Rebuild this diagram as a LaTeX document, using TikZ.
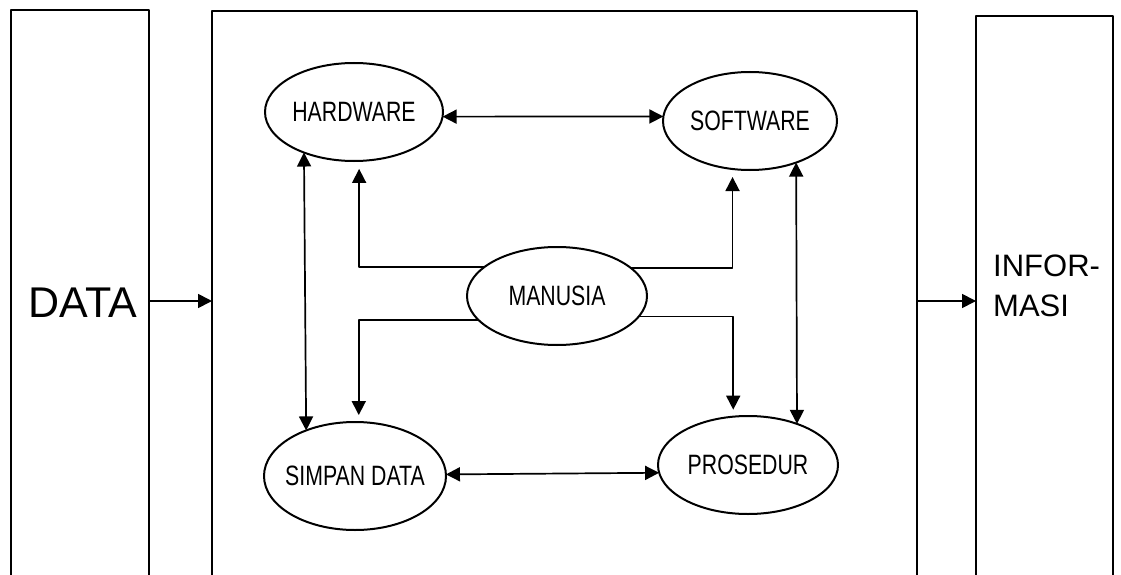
\documentclass[tikz,border=0pt]{standalone}
\usepackage{fontspec}
\setmainfont{Liberation Sans}
\newfontfamily\ovalfont[FakeStretch=0.76]{Liberation Sans}
\usetikzlibrary{arrows.meta,shapes.geometric}

% label inside an oval: zero width so the oval keeps its own size
\newcommand\ovaltext[1]{\makebox[0pt]{\ovalfont\fontsize{28}{30}\selectfont #1}}

\begin{document}
\begin{tikzpicture}[x=1pt,y=-1pt,line join=round,
  panel/.style={draw,rectangle,line width=2.4pt,inner sep=0pt,outer sep=0pt,anchor=north west},
  oval/.style={draw,ellipse,line width=2pt,inner sep=0pt,outer sep=0pt},
  link/.style={line width=1.7pt,-{Triangle[length=14pt,width=14pt]}},
  both/.style={line width=1.7pt,{Triangle[length=14pt,width=14pt]}-{Triangle[length=14pt,width=14pt]}}]
\useasboundingbox (0,0) rectangle (1121,575);

% the three columns: input, system, output (open at the foot)
\node[panel,minimum width=138pt,minimum height=590pt] (data) at (11,10) {};
\node[panel,minimum width=705pt,minimum height=590pt] (sys) at (212,11) {};
\node[panel,minimum width=137pt,minimum height=590pt] (info) at (976,16) {};

\node[font=\fontsize{43}{46}\selectfont,inner sep=0pt] (datatext) at (83,303) {DATA};
\node[font=\fontsize{31}{40}\selectfont,align=left,anchor=west,inner sep=0pt] (infotext) at (993,286) {INFOR-\\MASI};

\coordinate (io) at (0,301);
\draw[link] (data.east |- io) -- (sys.west |- io);
\draw[link] (sys.east |- io) -- (info.west |- io);

% components of the system
\node[oval,minimum width=178pt,minimum height=98pt] (hw) at (354,112) {\ovaltext{HARDWARE}};
\node[oval,minimum width=174pt,minimum height=98pt] (sw) at (750,121) {\ovaltext{SOFTWARE}};
\node[oval,minimum width=180pt,minimum height=98pt] (mn) at (557,296) {\ovaltext{MANUSIA}};
\node[oval,minimum width=182pt,minimum height=108pt] (sd) at (355,476) {\ovaltext{SIMPAN DATA}};
\node[oval,minimum width=180pt,minimum height=98pt] (pr) at (748,465) {\ovaltext{PROSEDUR}};

% two-way links between the outer components
\draw[both] (hw.-3.2) -- (sw.177.4);
\draw[both] (sd.1.9) -- (pr.185.15);
\draw[both] (hw.219.85) -- (sd.137.95);
\draw[both] (sw.-42.1) -- (pr.40.8);

% links from the people to every other component
\draw[link,shorten >=8pt] (mn.158.2) -| (hw.-84.2);
\draw[link,shorten >=8pt] (mn.21.8) -| (sw.250.5);
\draw[link,shorten >=7pt] (mn.197.9) -| (sd.86);
\draw[link,shorten >=7pt] (mn.-14.5) -| (pr.107.3);
\end{tikzpicture}
\end{document}
